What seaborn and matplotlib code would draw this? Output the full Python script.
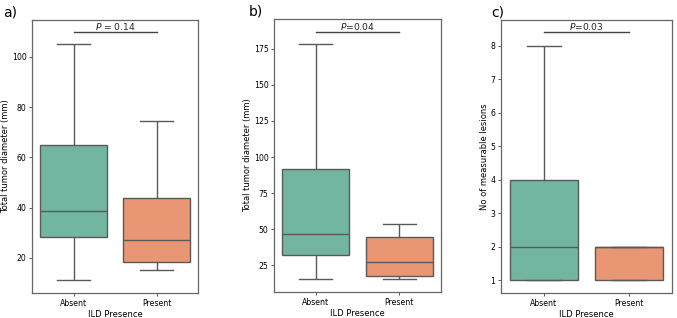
import matplotlib
matplotlib.use("Agg")
import matplotlib.pyplot as plt
import seaborn as sns
import pandas as pd

groups = ["Absent", "Absent", "Absent", "Absent", "Absent",
          "Present", "Present", "Present", "Present", "Present"]

# five values per group: min, Q1, median, Q3, max
diam_a = [11, 28.3, 38.5, 65, 105,
          15.3, 18.3, 27, 44, 74.5]
diam_b = [15.3, 31.9, 46.5, 91.5, 178.5,
          15.7, 17.6, 27.3, 44.4, 53.6]
lesions_c = [1, 1, 2, 4, 8,
             1, 1, 2, 2, 2]

p_texts = [r"$P$ = 0.14", r"$P$=0.04", r"$P$=0.03"]
p_heights = [109.8, 186.8, 8.41]
ylabels = ["Total tumor diameter (mm)", "Total tumor diameter (mm)",
           "No of measurable lesions"]
panel_tags = ["a)", "b)", "c)"]
ylims = [(6.0, 114.7), (6.5, 195.6), (0.62, 8.77)]

fig = plt.figure(figsize=(6.77, 3.18), dpi=100)
rects = [
    [0.0473, 0.0786, 0.2452, 0.8585],
    [0.4047, 0.0818, 0.2467, 0.8585],
    [0.7400, 0.0786, 0.2526, 0.8585],
]
tag_pos = [(0.004, 0.962), (0.367, 0.965), (0.725, 0.962)]

for i, vals in enumerate([diam_a, diam_b, lesions_c]):
    df = pd.DataFrame({"ILD Presence": groups, "value": vals})
    ax = fig.add_axes(rects[i])
    sns.boxplot(data=df, x="ILD Presence", y="value", hue="ILD Presence",
                palette="Set2", legend=False, ax=ax, linewidth=1.0)
    ax.set_ylim(*ylims[i])
    ax.set_xlim(-0.5, 1.5)
    ax.set_ylabel(ylabels[i], fontsize=6, labelpad=1)
    ax.set_xlabel("ILD Presence", fontsize=6, labelpad=1.5)
    ax.tick_params(labelsize=5.6, length=2.5, width=0.7, pad=1.5,
                   color="#555555")
    for s in ax.spines.values():
        s.set_color("#666666")
        s.set_linewidth(0.9)
    ax.plot([0, 1], [p_heights[i], p_heights[i]], color="#444444", lw=1.0)
    ax.text(0.5, p_heights[i], p_texts[i], ha="center", va="bottom",
            fontsize=6.6, color="#222222")
    fig.text(tag_pos[i][0], tag_pos[i][1], panel_tags[i], fontsize=10,
             va="center", ha="left")

fig.savefig("out.png", dpi=100)
